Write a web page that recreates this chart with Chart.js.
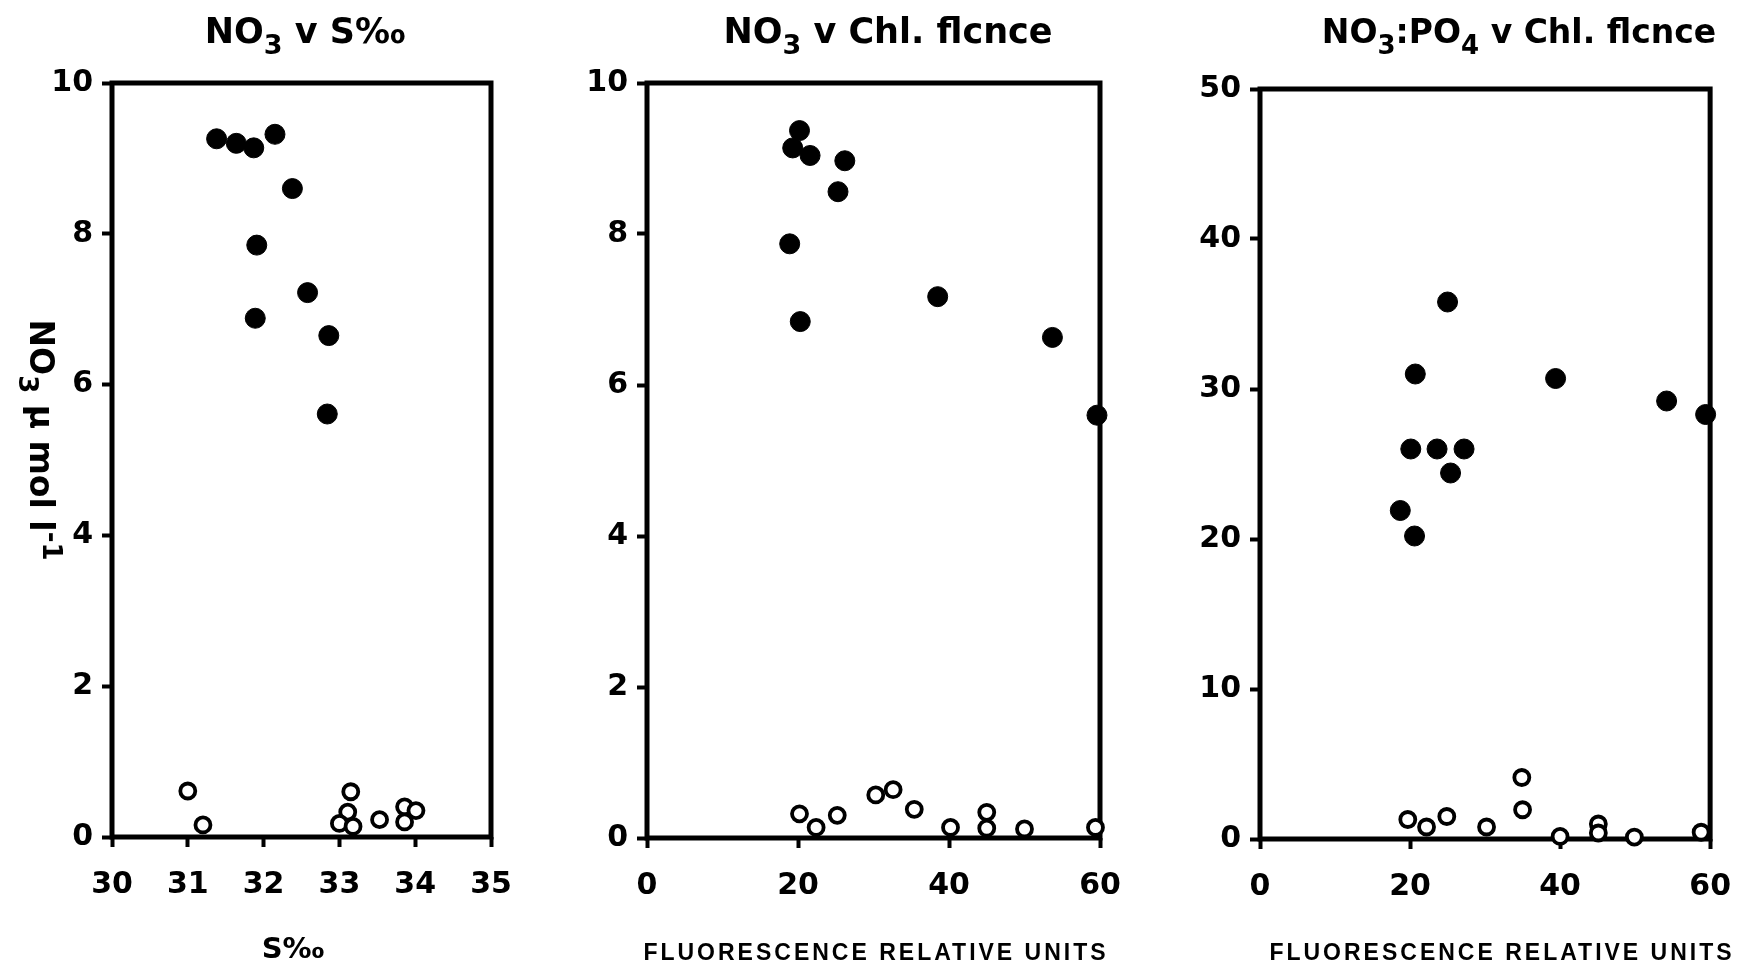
<!DOCTYPE html>
<html>
<head>
<meta charset="utf-8">
<script src="https://cdn.jsdelivr.net/npm/chart.js@4.4.0/dist/chart.umd.min.js"></script>
<style>
  html, body { margin: 0; padding: 0; background: #fff; }
  #wrap { position: relative; width: 1751px; height: 966px; }
  canvas { position: absolute; left: 0; top: 0; }
</style>
</head>
<body>
<div id="wrap">
  <canvas id="salChart" width="1751" height="966"></canvas>
  <canvas id="flChart" width="1751" height="966"></canvas>
  <canvas id="ratioChart" width="1751" height="966"></canvas>
</div>
<script>
// NO3 v salinity
const salTicks = [30, 31, 32, 33, 34, 35];
const no3Ticks = [0, 2, 4, 6, 8, 10];
const salFilledX = [31.38, 31.64, 31.87, 32.15, 32.38, 31.91, 31.89, 32.58, 32.86, 32.84];
const salFilledY = [9.26, 9.2, 9.14, 9.32, 8.6, 7.85, 6.88, 7.22, 6.65, 5.61];
const salOpenX = [31.0, 31.2, 33.15, 33.11, 33.0, 33.18, 33.53, 33.86, 34.01, 33.86];
const salOpenY = [0.61, 0.16, 0.6, 0.33, 0.18, 0.14, 0.23, 0.4, 0.35, 0.2];

// NO3 v chlorophyll fluorescence
const flTicks = [0, 20, 40, 60];
const flFilledX = [20.2, 19.3, 21.6, 26.2, 25.3, 18.9, 20.3, 38.5, 53.7, 59.6];
const flFilledY = [9.37, 9.14, 9.04, 8.97, 8.56, 7.87, 6.84, 7.17, 6.63, 5.6];
const flOpenX = [20.2, 22.4, 25.2, 30.3, 32.6, 35.4, 40.2, 45.0, 45.0, 50.0, 59.4];
const flOpenY = [0.32, 0.14, 0.3, 0.57, 0.64, 0.38, 0.14, 0.34, 0.13, 0.12, 0.14];

// NO3:PO4 v chlorophyll fluorescence
const ratioTicks = [0, 10, 20, 30, 40, 50];
const ratioFilledX = [18.7, 20.6, 20.1, 20.7, 23.6, 27.2, 25.4, 25.0, 39.4, 54.2, 59.4];
const ratioFilledY = [21.9, 20.2, 26.0, 31.0, 26.0, 26.0, 24.4, 35.8, 30.7, 29.2, 28.3];
const ratioOpenX = [19.7, 22.2, 24.9, 30.2, 34.9, 35.0, 40.0, 45.1, 45.1, 49.9, 58.8];
const ratioOpenY = [1.3, 0.8, 1.5, 0.8, 4.1, 1.95, 0.17, 1.0, 0.4, 0.13, 0.45];

const W = 1751, H = 966;
const tickFont = { family: "DejaVu Sans", weight: "bold", size: 30 };

function toPoints(xs, ys) {
    return xs.map((x, i) => ({ x: x, y: ys[i] }));
}

// texte avec indices / exposants
function drawRich(ctx, segs, x, y, size, weight, family, rotate) {
    ctx.save();
    ctx.translate(x, y);
    if (rotate) ctx.rotate(rotate);
    ctx.fillStyle = "#000";
    ctx.textBaseline = "alphabetic";
    ctx.textAlign = "left";
    const fontFor = s => weight + " " + (s.sub || s.sup ? Math.round(size * 0.78) : size) + "px " + family;
    let total = 0;
    segs.forEach(s => { ctx.font = fontFor(s); total += ctx.measureText(s.t).width; });
    let cx = -total / 2;
    segs.forEach(s => {
        ctx.font = fontFor(s);
        const dy = s.sub ? size * 0.32 : (s.sup ? -size * 0.38 : 0);
        ctx.fillText(s.t, cx, dy);
        cx += ctx.measureText(s.t).width;
    });
    ctx.restore();
}

function decorPlugin(texts) {
    return {
        id: "decor",
        beforeDatasetsDraw(chart) {
            const { ctx, chartArea: a } = chart;
            ctx.save();
            ctx.strokeStyle = "#000";
            ctx.lineWidth = 5;
            ctx.strokeRect(a.left, a.top, a.right - a.left, a.bottom - a.top);
            ctx.restore();
        },
        afterDraw(chart) {
            const ctx = chart.ctx;
            texts.forEach(t => {
                if (t.spacing) {
                    ctx.save();
                    ctx.letterSpacing = t.spacing + "px";
                    ctx.font = t.weight + " " + t.size + "px " + t.family;
                    ctx.fillStyle = "#000";
                    ctx.textAlign = "center";
                    ctx.textBaseline = "alphabetic";
                    ctx.fillText(t.segs[0].t, t.x, t.y);
                    ctx.restore();
                } else {
                    drawRich(ctx, t.segs, t.x, t.y, t.size, t.weight, t.family, t.rotate);
                }
            });
        }
    };
}

function axis(ticks, isX, pad) {
    return {
        type: "linear",
        min: ticks[0],
        max: ticks[ticks.length - 1],
        afterBuildTicks: s => { s.ticks = ticks.map(v => ({ value: v })); },
        afterFit: s => { if (isX) s.height = 100; else s.width = 100; },
        border: { display: false },
        grid: { display: true, drawOnChartArea: false, drawTicks: true, tickLength: 10, tickWidth: 4, tickColor: "#000" },
        ticks: { color: "#000", padding: pad, font: tickFont, maxRotation: 0, autoSkip: false }
    };
}

function makeChart(id, area, xTicks, yTicks, filled, open, texts) {
    const ctx = document.getElementById(id).getContext("2d");
    return new Chart(ctx, {
        type: "scatter",
        data: {
            datasets: [
                { data: filled, pointStyle: "circle", pointRadius: 10, backgroundColor: "#000", borderColor: "#000", borderWidth: 1, clip: false },
                { data: open, pointStyle: "circle", pointRadius: 7.5, backgroundColor: "#fff", borderColor: "#000", borderWidth: 3.8, clip: false }
            ]
        },
        options: {
            responsive: false,
            animation: false,
            events: [],
            layout: { padding: { left: area.l - 100, right: W - area.r, top: area.t, bottom: H - area.b - 100 } },
            plugins: { legend: { display: false }, tooltip: { enabled: false } },
            scales: { x: axis(xTicks, true, 20), y: axis(yTicks, false, 9) }
        },
        plugins: [decorPlugin(texts)]
    });
}

const titleFont = { size: 35, weight: "bold", family: "DejaVu Sans" };
const unitsFont = { size: 23, weight: "bold", family: "Liberation Sans", spacing: 3 };

makeChart("salChart", { l: 112, r: 491, t: 83, b: 837 }, salTicks, no3Ticks,
    toPoints(salFilledX, salFilledY), toPoints(salOpenX, salOpenY), [
        Object.assign({ x: 305, y: 43, segs: [{ t: "NO" }, { t: "3", sub: true }, { t: " v S‰" }] }, titleFont),
        { x: 293, y: 958, size: 29, weight: "bold", family: "DejaVu Sans", segs: [{ t: "S‰" }] },
        { x: 30, y: 440, size: 33, weight: "bold", family: "DejaVu Sans", rotate: Math.PI / 2,
          segs: [{ t: "NO" }, { t: "3", sub: true }, { t: " µ mol l" }, { t: "-1", sup: true }] }
    ]);

makeChart("flChart", { l: 647, r: 1100, t: 83, b: 838 }, flTicks, no3Ticks,
    toPoints(flFilledX, flFilledY), toPoints(flOpenX, flOpenY), [
        Object.assign({ x: 888, y: 43, segs: [{ t: "NO" }, { t: "3", sub: true }, { t: " v Chl. flcnce" }] }, titleFont),
        Object.assign({ x: 876, y: 960, segs: [{ t: "FLUORESCENCE RELATIVE UNITS" }] }, unitsFont)
    ]);

makeChart("ratioChart", { l: 1260, r: 1714, t: 89, b: 839 }, flTicks, ratioTicks,
    toPoints(ratioFilledX, ratioFilledY), toPoints(ratioOpenX, ratioOpenY), [
        Object.assign({ x: 1519, y: 43, segs: [{ t: "NO" }, { t: "3", sub: true }, { t: ":PO" }, { t: "4", sub: true }, { t: " v Chl. flcnce" }] }, titleFont, { size: 33 }),
        Object.assign({ x: 1502, y: 960, segs: [{ t: "FLUORESCENCE RELATIVE UNITS" }] }, unitsFont)
    ]);
</script>
</body>
</html>
